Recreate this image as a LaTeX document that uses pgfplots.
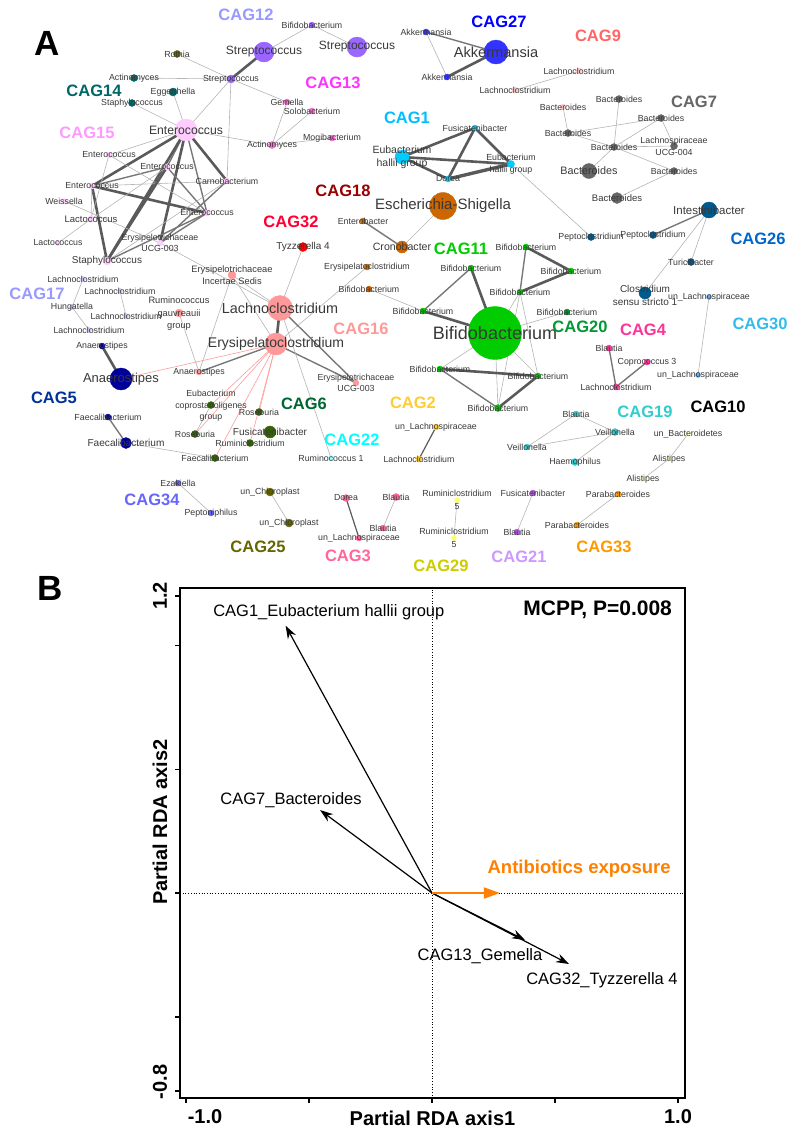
\documentclass[border=0pt]{standalone}
\usepackage{pgfplots}
\pgfplotsset{compat=1.18}
\usepackage{fontspec}
\setmainfont{Liberation Sans}
\usetikzlibrary{arrows.meta}
% label colours
\definecolor{L1}{HTML}{00BFFF}\definecolor{L2}{HTML}{FFCC33}\definecolor{L3}{HTML}{FF6699}
\definecolor{L4}{HTML}{FF3399}\definecolor{L5}{HTML}{003399}\definecolor{L6}{HTML}{006633}
\definecolor{L7}{HTML}{666666}\definecolor{L9}{HTML}{FF6666}\definecolor{L10}{HTML}{000000}
\definecolor{L11}{HTML}{00CC00}\definecolor{L12}{HTML}{9999FF}\definecolor{L13}{HTML}{FF33FF}
\definecolor{L14}{HTML}{006666}\definecolor{L15}{HTML}{FF99FF}\definecolor{L16}{HTML}{FF9999}
\definecolor{L17}{HTML}{9999FF}\definecolor{L18}{HTML}{990000}\definecolor{L19}{HTML}{33CCCC}
\definecolor{L20}{HTML}{009933}\definecolor{L21}{HTML}{CC99FF}\definecolor{L22}{HTML}{00FFFF}
\definecolor{L25}{HTML}{666600}\definecolor{L26}{HTML}{0066CC}\definecolor{L27}{HTML}{0000FF}
\definecolor{L29}{HTML}{CCCC00}\definecolor{L30}{HTML}{33BBEE}\definecolor{L32}{HTML}{FF0033}
\definecolor{L33}{HTML}{FF9900}\definecolor{L34}{HTML}{6666FF}
% node colours
\definecolor{N1}{HTML}{00CCFF}\definecolor{N2}{HTML}{FFCC33}\definecolor{N3}{HTML}{FF6699}
\definecolor{N4}{HTML}{FF3399}\definecolor{N5}{HTML}{000099}\definecolor{N6}{HTML}{336600}
\definecolor{N7}{HTML}{666666}\definecolor{N9}{HTML}{FFCCCC}\definecolor{N10}{HTML}{FFFFCC}
\definecolor{N11}{HTML}{00CC00}\definecolor{N12}{HTML}{9966FF}\definecolor{N13}{HTML}{FF66CC}
\definecolor{N14}{HTML}{006666}\definecolor{N15}{HTML}{FFCCFF}\definecolor{N16}{HTML}{FF9999}
\definecolor{N17}{HTML}{CCCCFF}\definecolor{N18}{HTML}{CC6600}\definecolor{N19}{HTML}{33CCCC}
\definecolor{N20}{HTML}{009933}\definecolor{N21}{HTML}{BB55EE}\definecolor{N22}{HTML}{99FFFF}
\definecolor{N25}{HTML}{666600}\definecolor{N26}{HTML}{005A8C}\definecolor{N27}{HTML}{3333FF}
\definecolor{N29}{HTML}{FFFF66}\definecolor{N30}{HTML}{66AAEE}\definecolor{N32}{HTML}{FF0000}
\definecolor{N33}{HTML}{FF9900}\definecolor{N34}{HTML}{6666FF}
\definecolor{edgeT}{HTML}{B4B4B4}\definecolor{edgeM}{HTML}{777777}
\definecolor{edgeK}{HTML}{5A5A5A}\definecolor{edgeP}{HTML}{FF9A9A}
\definecolor{labgray}{HTML}{383838}\definecolor{abx}{HTML}{FF7F00}
\pgfplotsset{
 eT/.style={color=edgeT, line width=0.6pt},
 eM/.style={color=edgeM, line width=1.4pt},
 eK/.style={color=edgeK, line width=2.6pt},
 eP/.style={color=edgeP, line width=0.6pt},
 netaxis/.style={at={(0pt,0pt)}, anchor=north west, x=1pt, y=1pt,
  xmin=0, xmax=800, ymin=0, ymax=570, y dir=reverse, hide axis, clip=false},
}
\newcommand{\E}[5]{\addplot[#1] coordinates {(#2,#3) (#4,#5)};}
\newcommand{\Nd}[4]{\addplot[only marks, mark=*, mark size=#3pt, mark options={draw=#4, fill=#4}] coordinates {(#1,#2)};}
\newcommand{\Lb}[5]{\node[align=center, inner sep=0pt, text=labgray, font=\fontsize{#3}{#4}\selectfont] at (axis cs:#1,#2) {#5};}
\newcommand{\Cg}[4]{\node[inner sep=0pt, text=#3, font=\bfseries\fontsize{16.5}{18}\selectfont] at (axis cs:#1,#2) {#4};}
\begin{document}
\begin{tikzpicture}
% ================= PANEL A: edges and nodes =================
\begin{axis}[netaxis]
% ---- edges ----
\E{eT}{312}{25}{264}{52}\E{eT}{312}{25}{357}{47}\E{eK}{264}{52}{231}{79}
\E{eT}{231}{79}{177}{54}\E{eT}{231}{79}{134}{78}\E{eT}{231}{79}{287}{102}
\E{eT}{231}{79}{186}{130}\E{eT}{231}{79}{227}{181}\E{eT}{173}{92}{186}{130}
\E{eT}{132}{103}{186}{130}\E{eT}{186}{130}{272}{145}\E{eT}{272}{145}{287}{102}
\E{eT}{272}{145}{312}{111}\E{eT}{272}{145}{332}{138}
% CAG15
\E{eT}{186}{130}{109}{155}\E{eK}{186}{130}{92}{186}\E{eM}{186}{130}{167}{167}
\E{eK}{186}{130}{107}{261}\E{eK}{186}{130}{160}{243}\E{eM}{186}{130}{207}{213}
\E{eK}{186}{130}{227}{181}\E{eK}{92}{186}{207}{213}\E{eK}{92}{186}{107}{261}
\E{eM}{92}{186}{167}{167}\E{eT}{92}{186}{227}{181}\E{eT}{109}{155}{207}{213}
\E{eT}{109}{155}{91}{219}\E{eM}{167}{167}{207}{213}\E{eK}{167}{167}{107}{261}
\E{eT}{167}{167}{91}{219}\E{eM}{227}{181}{160}{243}\E{eT}{227}{181}{107}{261}
\E{eM}{207}{213}{107}{261}\E{eM}{207}{213}{160}{243}\E{eT}{91}{219}{58}{243}
\E{eT}{64}{201}{160}{243}\E{eT}{92}{186}{91}{219}\E{eT}{160}{243}{280}{308}
% CAG27
\E{eM}{426}{32}{496}{52}\E{eK}{447}{77}{496}{52}\E{eT}{426}{32}{447}{77}
% CAG9 / CAG7
\E{eT}{579}{71}{515}{90}\E{eT}{563}{107}{568}{133}\E{eT}{619}{99}{614}{147}
\E{eT}{661}{118}{568}{133}\E{eT}{661}{118}{614}{147}\E{eT}{661}{118}{674}{146}
\E{eT}{614}{147}{674}{146}\E{eT}{614}{147}{589}{171}\E{eT}{614}{147}{674}{171}
\E{eT}{674}{171}{617}{198}\E{eT}{568}{133}{614}{147}
% CAG1
\E{eK}{402}{157}{475}{128}\E{eK}{402}{157}{448}{179}\E{eK}{402}{157}{511}{164}
\E{eK}{475}{128}{448}{179}\E{eK}{475}{128}{511}{164}
\addplot[color=edgeK, line width=3.4pt] coordinates {(448,179) (511,164)};
\E{eT}{511}{164}{591}{237}
% CAG18 / 32 / 16
\E{eM}{363}{221}{402}{247}\E{eT}{402}{247}{443}{206}\E{eT}{367}{267}{276}{344}
\E{eT}{369}{289}{423}{311}\E{eT}{303}{247}{280}{308}
\E{eT}{232}{275}{280}{308}\E{eT}{232}{275}{276}{344}\E{eT}{232}{275}{199}{372}
\E{eK}{280}{308}{276}{344}\E{eT}{179}{313}{199}{372}\E{eM}{276}{344}{199}{372}
\E{eM}{276}{344}{356}{383}\E{eM}{280}{308}{356}{383}\E{eT}{280}{308}{331}{458}
\E{eP}{276}{344}{121}{379}\E{eP}{276}{344}{211}{405}\E{eP}{276}{344}{195}{434}
\E{eP}{276}{344}{215}{458}\E{eP}{276}{344}{250}{443}\E{eP}{276}{344}{259}{412}
\E{eT}{211}{405}{195}{434}
% CAG5 / 17 / small groups
\E{eK}{102}{346}{121}{379}\E{eM}{108}{417}{126}{443}\E{eT}{126}{443}{215}{458}
\E{eT}{83}{279}{72}{307}\E{eT}{72}{307}{89}{330}\E{eT}{120}{291}{126}{316}
\E{eT}{178}{483}{211}{513}\E{eT}{270}{492}{289}{523}
\addplot[color=edgeK, line width=1.2pt] coordinates {(346,498) (359,538)};
\E{eT}{396}{497}{383}{528}\E{eT}{457}{500}{454}{538}\E{eT}{533}{493}{517}{532}
\E{eT}{618}{494}{577}{525}
\addplot[color=edgeK, line width=1.2pt] coordinates {(436,427) (419,459)};
\E{eT}{688}{434}{669}{459}\E{eT}{669}{459}{643}{479}
\E{eT}{576}{414}{615}{432}\E{eT}{576}{414}{527}{447}\E{eT}{527}{447}{615}{432}
\E{eT}{575}{462}{615}{432}
\E{eM}{709}{210}{653}{235}\E{eT}{709}{210}{691}{262}\E{eT}{709}{210}{645}{293}
\E{eT}{709}{297}{698}{375}
\E{eM}{609}{348}{616}{387}\E{eM}{647}{362}{616}{387}
% CAG11
\E{eK}{471}{268}{495}{333}\E{eM}{471}{268}{423}{311}\E{eK}{423}{311}{495}{333}
\E{eT}{495}{333}{520}{292}\E{eM}{520}{292}{526}{247}\E{eK}{526}{247}{571}{271}
\E{eK}{520}{292}{571}{271}\E{eT}{520}{292}{538}{376}\E{eT}{520}{292}{498}{408}
\E{eT}{495}{333}{567}{312}\E{eT}{495}{333}{440}{369}\E{eT}{495}{333}{498}{408}
\E{eT}{495}{333}{538}{376}\E{eK}{440}{369}{538}{376}\E{eM}{440}{369}{498}{408}
\E{eK}{498}{408}{538}{376}
% ---- nodes ----
\Nd{312}{25}{3}{N12}\Nd{264}{52}{10}{N12}\Nd{357}{47}{10}{N12}\Nd{231}{79}{4}{N12}
\Nd{177}{54}{3.5}{N25}\Nd{270}{492}{4}{N25}\Nd{289}{523}{4}{N25}
\Nd{134}{78}{3.5}{N14}\Nd{173}{92}{4}{N14}\Nd{132}{103}{3.5}{N14}
\Nd{186}{130}{11}{N15}\Nd{109}{155}{3}{N15}\Nd{167}{167}{3}{N15}\Nd{227}{181}{3}{N15}
\Nd{92}{186}{3}{N15}\Nd{64}{201}{2.5}{N15}\Nd{91}{219}{3}{N15}\Nd{207}{213}{3}{N15}
\Nd{58}{243}{2.5}{N15}\Nd{160}{243}{3}{N15}\Nd{107}{261}{4}{N15}
\Nd{287}{102}{3}{N13}\Nd{312}{111}{3}{N13}\Nd{332}{138}{3}{N13}\Nd{272}{145}{3.5}{N13}
\Nd{426}{32}{3}{N27}\Nd{496}{52}{12}{N27}\Nd{447}{77}{3}{N27}
\Nd{579}{71}{3}{N9}\Nd{515}{90}{3}{N9}\Nd{563}{107}{3}{N9}
\Nd{619}{99}{3.5}{N7}\Nd{661}{118}{3.5}{N7}\Nd{568}{133}{3.5}{N7}\Nd{614}{147}{3.5}{N7}
\Nd{674}{146}{3.5}{N7}\Nd{589}{171}{7.5}{N7}\Nd{674}{171}{3.5}{N7}\Nd{617}{198}{5.5}{N7}
\Nd{402}{157}{7}{N1}\Nd{475}{128}{3}{N1}\Nd{511}{164}{3.5}{N1}\Nd{448}{179}{3}{N1}
\Nd{443}{206}{13.5}{N18}\Nd{363}{221}{3}{N18}\Nd{402}{247}{6}{N18}\Nd{367}{267}{3}{N18}
\Nd{369}{289}{3}{N18}
\Nd{303}{247}{4.5}{N32}
\Nd{232}{275}{4}{N16}\Nd{280}{308}{12.5}{N16}\Nd{276}{344}{11}{N16}\Nd{179}{313}{4}{N16}
\Nd{199}{372}{3}{N16}\Nd{356}{383}{3}{N16}
\Nd{83}{279}{2.5}{N17}\Nd{120}{291}{2.5}{N17}\Nd{72}{307}{2.5}{N17}\Nd{126}{316}{2.5}{N17}
\Nd{89}{330}{2.5}{N17}
\Nd{102}{346}{3}{N5}\Nd{121}{379}{11}{N5}\Nd{108}{417}{3}{N5}\Nd{126}{443}{5.5}{N5}
\Nd{211}{405}{3.5}{N6}\Nd{195}{434}{3.5}{N6}\Nd{259}{412}{3.5}{N6}\Nd{270}{432}{6}{N6}
\Nd{250}{443}{3.5}{N6}\Nd{215}{458}{3.5}{N6}
\Nd{331}{458}{2.5}{N22}
\Nd{178}{483}{3}{N34}\Nd{211}{513}{3}{N34}
\Nd{346}{498}{3.5}{N3}\Nd{359}{538}{3}{N3}\Nd{396}{497}{3.5}{N3}\Nd{383}{528}{3}{N3}
\Nd{457}{500}{2.5}{N29}\Nd{454}{538}{2.5}{N29}
\Nd{533}{493}{3}{N21}\Nd{517}{532}{3}{N21}
\Nd{618}{494}{3}{N33}\Nd{577}{525}{3}{N33}
\Nd{436}{427}{3}{N2}\Nd{419}{459}{3}{N2}
\Nd{526}{247}{3}{N11}\Nd{571}{271}{3}{N11}\Nd{471}{268}{3}{N11}\Nd{520}{292}{3}{N11}
\Nd{423}{311}{3}{N11}\Nd{495}{333}{26.5}{N11}\Nd{440}{369}{3}{N11}\Nd{538}{376}{3}{N11}
\Nd{498}{408}{3.5}{N11}
\Nd{567}{312}{3}{N20}
\Nd{576}{414}{3}{N19}\Nd{615}{432}{3.5}{N19}\Nd{527}{447}{3}{N19}\Nd{575}{462}{3.5}{N19}
\Nd{688}{434}{2.5}{N10}\Nd{669}{459}{2.5}{N10}\Nd{643}{479}{2.5}{N10}
\Nd{709}{210}{8}{N26}\Nd{591}{237}{3.5}{N26}\Nd{653}{235}{3.5}{N26}\Nd{691}{262}{3.5}{N26}
\Nd{645}{293}{6}{N26}
\Nd{709}{297}{2.5}{N30}\Nd{698}{375}{2.5}{N30}
\Nd{609}{348}{3}{N4}\Nd{647}{362}{3}{N4}\Nd{616}{387}{3}{N4}
\end{axis}
% ================= PANEL A: texts (on top) =================
\begin{axis}[netaxis]
\Lb{312}{25}{8.8}{11}{Bifidobacterium}\Lb{264}{52}{12}{14}{Streptococcus}
\Lb{357}{47}{12}{14}{Streptococcus}\Lb{231}{79}{8.8}{11}{Streptococcus}
\Lb{177}{54}{8.8}{11}{Rothia}\Lb{270}{492}{8.8}{11}{un\_Chloroplast}\Lb{289}{523}{8.8}{11}{un\_Chloroplast}
\Lb{134}{78}{8.8}{11}{Actinomyces}\Lb{173}{92}{8.8}{11}{Eggerthella}\Lb{132}{103}{8.8}{11}{Staphylococcus}
\Lb{186}{130}{12.2}{14}{Enterococcus}\Lb{109}{155}{8.8}{11}{Enterococcus}\Lb{167}{167}{8.8}{11}{Enterococcus}
\Lb{227}{181}{8.8}{11}{Carnobacterium}\Lb{92}{186}{8.8}{11}{Enterococcus}\Lb{64}{201}{8.8}{11}{Weissella}
\Lb{91}{219}{9.5}{11}{Lactococcus}\Lb{207}{213}{8.8}{11}{Enterococcus}\Lb{58}{243}{8.8}{11}{Lactococcus}
\Lb{160}{243}{8.8}{11}{Erysipelotrichaceae\\UCG-003}\Lb{107}{261}{10}{12}{Staphylococcus}
\Lb{287}{102}{8.8}{11}{Gemella}\Lb{312}{111}{8.8}{11}{Solobacterium}\Lb{332}{138}{8.8}{11}{Mogibacterium}
\Lb{272}{145}{8.8}{11}{Actinomyces}
\Lb{426}{32}{8.8}{11}{Akkermansia}\Lb{496}{52}{14.6}{16}{Akkermansia}\Lb{447}{77}{8.8}{11}{Akkermansia}
\Lb{579}{71}{8.8}{11}{Lachnoclostridium}\Lb{515}{90}{8.8}{11}{Lachnoclostridium}\Lb{563}{107}{8.8}{11}{Bacteroides}
\Lb{619}{99}{8.8}{11}{Bacteroides}\Lb{661}{118}{8.8}{11}{Bacteroides}\Lb{568}{133}{8.8}{11}{Bacteroides}
\Lb{614}{147}{8.8}{11}{Bacteroides}\Lb{674}{146}{8.8}{12}{Lachnospiraceae\\UCG-004}
\Lb{589}{171}{10.8}{13}{Bacteroides}\Lb{674}{171}{8.8}{11}{Bacteroides}\Lb{617}{198}{9.5}{11}{Bacteroides}
\Lb{402}{157}{10.5}{13}{Eubacterium\\hallii group}\Lb{475}{128}{8.8}{11}{Fusicatenibacter}
\Lb{511}{164}{8.8}{12}{Eubacterium\\hallii group}\Lb{448}{179}{8.8}{11}{Dorea}
\Lb{443}{206}{15}{17}{Escherichia-Shigella}\Lb{363}{221}{8.8}{11}{Enterobacter}
\Lb{402}{247}{10.6}{12}{Cronobacter}\Lb{367}{267}{8.8}{11}{Erysipelatoclostridium}
\Lb{369}{289}{8.8}{11}{Bifidobacterium}
\Lb{303}{247}{10}{12}{Tyzzerella 4}
\Lb{232}{275}{9.3}{12}{Erysipelotrichaceae\\Incertae Sedis}\Lb{280}{308}{14.4}{16}{Lachnoclostridium}
\Lb{276}{344}{14}{16}{Erysipelatoclostridium}\Lb{179}{314}{9.3}{12.5}{Ruminococcus\\gauvreauii\\group}
\Lb{199}{372}{8.8}{11}{Anaerostipes}\Lb{356}{383}{8.8}{11.5}{Erysipelotrichaceae\\UCG-003}
\Lb{83}{279}{8.8}{11}{Lachnoclostridium}\Lb{120}{291}{8.8}{11}{Lachnoclostridium}
\Lb{72}{307}{8.8}{11}{Hungatella}\Lb{126}{316}{8.8}{11}{Lachnoclostridium}\Lb{89}{330}{8.8}{11}{Lachnoclostridium}
\Lb{102}{346}{8.8}{11}{Anaerostipes}\Lb{121}{379}{13}{15}{Anaerostipes}
\Lb{108}{417}{8.8}{11}{Faecalibacterium}\Lb{126}{443}{10.1}{12}{Faecalibacterium}
\Lb{211}{406}{8.8}{11.5}{Eubacterium\\coprostanoligenes\\group}\Lb{195}{434}{8.8}{11}{Roseburia}
\Lb{259}{412}{8.8}{11}{Roseburia}\Lb{270}{432}{10.1}{12}{Fusicatenibacter}
\Lb{250}{443}{8.8}{11}{Ruminiclostridium}\Lb{215}{458}{8.8}{11}{Faecalibacterium}
\Lb{331}{458}{8.8}{11}{Ruminococcus 1}
\Lb{178}{483}{8.8}{11}{Ezakiella}\Lb{211}{513}{8.8}{11}{Peptoniphilus}
\Lb{346}{498}{8.8}{11}{Dorea}\Lb{359}{538}{8.8}{11}{un\_Lachnospiraceae}
\Lb{396}{497}{8.8}{11}{Blautia}\Lb{383}{528}{8.8}{11}{Blautia}
\Lb{457}{500}{8.8}{12.5}{Ruminiclostridium\\5}\Lb{454}{538}{8.8}{12.5}{Ruminiclostridium\\5}
\Lb{533}{493}{8.8}{11}{Fusicatenibacter}\Lb{517}{532}{8.8}{11}{Blautia}
\Lb{618}{494}{8.8}{11}{Parabacteroides}\Lb{577}{525}{8.8}{11}{Parabacteroides}
\Lb{436}{427}{8.8}{11}{un\_Lachnospiraceae}\Lb{419}{459}{8.8}{11}{Lachnoclostridium}
\Lb{526}{247}{8.8}{11}{Bifidobacterium}\Lb{571}{271}{8.8}{11}{Bifidobacterium}
\Lb{471}{268}{8.8}{11}{Bifidobacterium}\Lb{520}{292}{8.8}{11}{Bifidobacterium}
\Lb{423}{311}{8.8}{11}{Bifidobacterium}\Lb{495}{333}{18}{20}{Bifidobacterium}
\Lb{440}{369}{8.8}{11}{Bifidobacterium}\Lb{538}{376}{8.8}{11}{Bifidobacterium}
\Lb{498}{408}{8.8}{11}{Bifidobacterium}\Lb{567}{312}{8.8}{11}{Bifidobacterium}
\Lb{576}{414}{8.8}{11}{Blautia}\Lb{615}{432}{8.8}{11}{Veillonella}
\Lb{527}{447}{8.8}{11}{Veillonella}\Lb{575}{462}{8.8}{11}{Haemophilus}
\Lb{688}{434}{8.8}{11}{un\_Bacteroidetes}\Lb{669}{459}{8.8}{11}{Alistipes}\Lb{643}{479}{8.8}{11}{Alistipes}
\Lb{709}{210}{11.5}{13}{Intestinibacter}\Lb{591}{237}{8.8}{11}{Peptoclostridium}
\Lb{653}{235}{8.8}{11}{Peptoclostridium}\Lb{691}{262}{8.8}{11}{Turicibacter}
\Lb{645}{295}{10}{13}{Clostridium\\sensu stricto 1}
\Lb{709}{297}{8.8}{11}{un\_Lachnospiraceae}\Lb{698}{375}{8.8}{11}{un\_Lachnospiraceae}
\Lb{609}{348}{8.8}{11}{Blautia}\Lb{647}{362}{8.8}{11}{Coprococcus 3}\Lb{616}{387}{8.8}{11}{Lachnoclostridium}
% ---- CAG labels ----
\Cg{246}{15}{L12}{CAG12}\Cg{499}{22}{L27}{CAG27}\Cg{598}{36}{L9}{CAG9}
\Cg{333}{83}{L13}{CAG13}\Cg{94}{91}{L14}{CAG14}\Cg{694}{102}{L7}{CAG7}
\Cg{407}{118}{L1}{CAG1}\Cg{87}{133}{L15}{CAG15}\Cg{343}{191}{L18}{CAG18}
\Cg{291}{222}{L32}{CAG32}\Cg{758}{239}{L26}{CAG26}\Cg{461}{249}{L11}{CAG11}
\Cg{37}{294}{L17}{CAG17}\Cg{760}{324}{L30}{CAG30}\Cg{361}{329}{L16}{CAG16}
\Cg{580}{327}{L20}{CAG20}\Cg{643}{330}{L4}{CAG4}\Cg{54}{398}{L5}{CAG5}
\Cg{304}{404}{L6}{CAG6}\Cg{413}{403}{L2}{CAG2}\Cg{645}{412}{L19}{CAG19}
\Cg{718}{407}{L10}{CAG10}\Cg{352}{440}{L22}{CAG22}\Cg{152}{500}{L34}{CAG34}
\Cg{258}{547}{L25}{CAG25}\Cg{348}{556}{L3}{CAG3}\Cg{441}{566}{L29}{CAG29}
\Cg{519}{557}{L21}{CAG21}\Cg{604}{547}{L33}{CAG33}
\node[inner sep=0pt, font=\bfseries\fontsize{35}{38}\selectfont] at (axis cs:47,43) {A};
\node[inner sep=0pt, font=\bfseries\fontsize{35}{38}\selectfont] at (axis cs:50,588) {B};
\end{axis}
% ================= PANEL B =================
\begin{axis}[at={(180pt,-588pt)}, anchor=north west, scale only axis,
  width=505pt, height=510pt,
  xmin=-1.0244, xmax=1.0285, ymin=-0.8283, ymax=1.2323,
  axis line style={line width=1.8pt},
  xtick={-1,-0.5,0,0.5,1}, xticklabels={\hspace*{38pt}-1.0,,,,1.0},
  ytick={-0.8,-0.5,0,0.5,1,1.2}, yticklabels={\hspace*{18pt}-0.8,,,,,1.2},
  tick align=outside, tick pos=left, major tick length=5pt,
  tick style={line width=1.5pt, black},
  /pgf/number format/assume math mode=true,
  ticklabel style={font=\bfseries\fontsize{20}{24}\selectfont},
  xticklabel style={anchor=center, yshift=-14pt},
  yticklabel style={rotate=90, anchor=center, yshift=15pt},
  xlabel={Partial RDA axis1}, ylabel={Partial RDA axis2},
  label style={font=\bfseries\fontsize{20}{24}\selectfont},
  xlabel style={at={(axis description cs:0.5,0)}, anchor=center, yshift=-20pt},
  ylabel style={at={(axis description cs:0,0.541)}, anchor=center, yshift=20pt},
  clip=false]
\addplot[black, dotted, line width=0.7pt] coordinates {(0,-0.8283) (0,1.2323)};
\addplot[black, dotted, line width=0.7pt] coordinates {(-1.0244,0) (1.0285,0)};
\addplot[black, line width=1.2pt, -{Stealth[length=13pt, width=9pt]}] coordinates {(0,0) (-0.595,1.08)};
\addplot[black, line width=1.2pt, -{Stealth[length=13pt, width=9pt]}] coordinates {(0,0) (-0.455,0.335)};
\addplot[black, line width=1.2pt, -{Stealth[length=13pt, width=9pt]}] coordinates {(0,0) (0.378,-0.19)};
\addplot[black, line width=1.2pt, -{Stealth[length=13pt, width=9pt]}] coordinates {(0,0) (0.557,-0.287)};
\addplot[abx, line width=2pt, -{Triangle[length=16pt, width=11pt]}] coordinates {(0,0) (0.276,0)};
\node[anchor=west, inner sep=0pt, font=\fontsize{16.5}{18}\selectfont] at (axis cs:-0.890,1.133) {CAG1\_Eubacterium hallii group};
\node[inner sep=0pt, font=\fontsize{16.5}{18}\selectfont] at (axis cs:-0.573,0.376) {CAG7\_Bacteroides};
\node[inner sep=0pt, font=\fontsize{16.5}{18}\selectfont] at (axis cs:0.195,-0.255) {CAG13\_Gemella};
\node[inner sep=0pt, font=\fontsize{16.5}{18}\selectfont] at (axis cs:0.691,-0.352) {CAG32\_Tyzzerella 4};
\node[inner sep=0pt, text=abx, font=\bfseries\fontsize{18.5}{20}\selectfont] at (axis cs:0.598,0.097) {Antibiotics exposure};
\node[anchor=east, inner sep=0pt, font=\bfseries\fontsize{21}{23}\selectfont] at (axis cs:0.976,1.143) {MCPP, P=0.008};
\end{axis}
\pgfresetboundingbox
\path[use as bounding box] (0,0) rectangle (800pt,-1132pt);
\end{tikzpicture}
\end{document}
